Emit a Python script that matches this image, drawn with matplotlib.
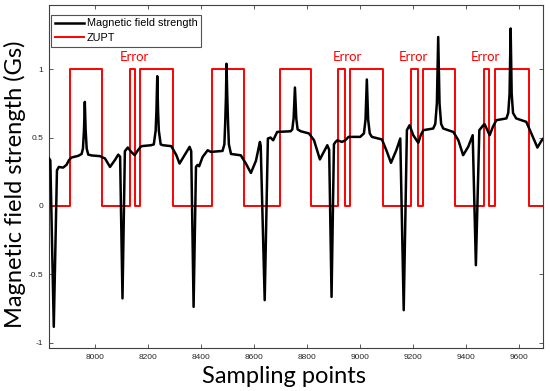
import numpy as np
import matplotlib
matplotlib.use("Agg")
import matplotlib.pyplot as plt

# Magnetic field strength (Gs)
sample_x = [7827, 7832, 7845, 7857, 7864, 7880, 7893, 7902, 7912, 7937, 7950,
            7955, 7959, 7962, 7965, 7969, 7975, 7988, 8019, 8038, 8057, 8075, 8088,
            8095, 8104, 8113, 8124, 8137, 8150, 8162, 8175, 8212,
            8222, 8229, 8232, 8235, 8238, 8241, 8248, 8256, 8288, 8307, 8319, 8338,
            8357, 8363, 8372, 8381, 8387, 8393, 8406, 8425, 8437, 8481,
            8488, 8491, 8494, 8496, 8499, 8502, 8505, 8513, 8550, 8569, 8588, 8607,
            8622, 8625, 8640, 8652, 8662, 8672, 8687, 8738,
            8744, 8749, 8754, 8759, 8764, 8776, 8807, 8826, 8848, 8876, 8883, 8892,
            8901, 8907, 8914, 8931, 8944, 8956, 9000,
            9014, 9020, 9025, 9030, 9036, 9044, 9082, 9101, 9116, 9136, 9151, 9164,
            9176, 9186, 9200, 9219, 9228, 9238, 9275,
            9283, 9289, 9294, 9299, 9305, 9313, 9351, 9370, 9388, 9407, 9424, 9436,
            9449, 9464, 9469, 9488, 9500, 9513, 9551,
            9558, 9563, 9567, 9571, 9576, 9588, 9626, 9645, 9668, 9683, 9689]
field_gs = [0.347, 0.334, -0.885, 0.26, 0.285, 0.28, 0.30, 0.334, 0.354, 0.366, 0.38,
            0.42, 0.56, 0.761, 0.56, 0.42, 0.375, 0.369, 0.364, 0.347, 0.285, 0.334, 0.375,
            0.36, -0.677, 0.40, 0.427, 0.395, 0.371, 0.407, 0.437, 0.444,
            0.45, 0.55, 0.70, 0.949, 0.70, 0.55, 0.45, 0.444, 0.437, 0.371, 0.31, 0.371,
            0.432, 0.40, -0.739, 0.285, 0.30, 0.29, 0.358, 0.407, 0.395, 0.402,
            0.45, 0.60, 0.80, 1.04, 0.80, 0.60, 0.45, 0.38, 0.37, 0.31, 0.241, 0.33,
            0.468, 0.44, -0.69, 0.493, 0.50, 0.48, 0.541, 0.546,
            0.56, 0.64, 0.866, 0.64, 0.56, 0.546, 0.53, 0.48, 0.34, 0.444, 0.41, -0.666,
            0.45, 0.468, 0.48, 0.468, 0.48, 0.505, 0.505,
            0.53, 0.63, 0.925, 0.63, 0.53, 0.505, 0.486, 0.395, 0.315, 0.407, 0.493, -0.763,
            0.554, 0.59, 0.517, 0.461, 0.517, 0.554, 0.566,
            0.60, 0.75, 1.236, 0.75, 0.60, 0.566, 0.541, 0.48, 0.371, 0.432, 0.517, -0.434,
            0.554, 0.59, 0.598, 0.517, 0.578, 0.627, 0.64,
            0.68, 0.82, 1.298, 0.82, 0.68, 0.64, 0.615, 0.53, 0.427, 0.476, 0.49]

# ZUPT (zero velocity) intervals: value 1 between on and off
zupt_on = [7906, 8131, 8171, 8440, 8697, 8918, 8961, 9191, 9235, 9467, 9507]
zupt_off = [8025, 8150, 8294, 8561, 8813, 8941, 9086, 9216, 9358, 9487, 9635]

error_x = [8150, 8950, 9199, 9472]
error_y = [1.09, 1.09, 1.09, 1.09]

x_lim = [7827, 9689]
y_lim = [-1.04, 1.47]
x_ticks = [8000, 8200, 8400, 8600, 8800, 9000, 9200, 9400, 9600]
y_ticks = [-1, -0.5, 0, 0.5, 1]
y_tick_labels = ['-1', '-0.5', '0', '0.5', '1']

# build ZUPT step trace
zx = [x_lim[0]]
zy = [0]
for on, off in zip(zupt_on, zupt_off):
    zx += [on, on, off, off]
    zy += [0, 1, 1, 0]
zx.append(x_lim[1])
zy.append(0)

fig = plt.figure(figsize=(5.5, 3.91), dpi=100)
ax = fig.add_axes([49/550, 1-348/391, (543-49)/550, (348-5)/391])

ax.plot(sample_x, field_gs, color='black', lw=1.8, label='Magnetic field strength', zorder=3)
ax.plot(zx, zy, color='#ff0000', lw=1.4, label='ZUPT', zorder=2)

for ex, ey in zip(error_x, error_y):
    ax.text(ex, ey, 'Error', color='#ff0000', fontsize=9.5, family=['Lato', 'DejaVu Sans'],
            ha='center', va='center')

ax.set_xlim(x_lim)
ax.set_ylim(y_lim)
ax.set_xticks(x_ticks)
ax.set_xticklabels([str(t) for t in x_ticks])
ax.set_yticks(y_ticks)
ax.set_yticklabels(y_tick_labels)
ax.tick_params(direction='in', length=3, width=0.6, colors='#404040', labelsize=6,
               top=True, right=True, labelcolor='#262626', pad=4)
for lab in ax.get_xticklabels() + ax.get_yticklabels():
    lab.set_family(['Liberation Sans', 'DejaVu Sans'])
for s in ax.spines.values():
    s.set_color('#404040')
    s.set_linewidth(0.8)

leg = ax.legend(loc='upper left', bbox_to_anchor=(0.004, 0.972),
                prop={'family': ['Liberation Sans', 'DejaVu Sans'], 'size': 7.8},
                frameon=True, fancybox=False, handlelength=2.7, handletextpad=0.25,
                borderpad=0.35, labelspacing=0.4, borderaxespad=0)
leg.get_frame().set_edgecolor('#262626')
leg.get_frame().set_linewidth(0.8)

fig.text(284/550, 1-383/391, 'Sampling points', fontsize=17, family=['Lato', 'DejaVu Sans'],
         ha='center', va='baseline', color='black')
fig.text(15/550, 1-184/391, 'Magnetic field strength (Gs)', fontsize=17,
         family=['Lato', 'DejaVu Sans'], rotation=90, ha='center', va='center', color='black')

fig.savefig('out.png', dpi=100)
